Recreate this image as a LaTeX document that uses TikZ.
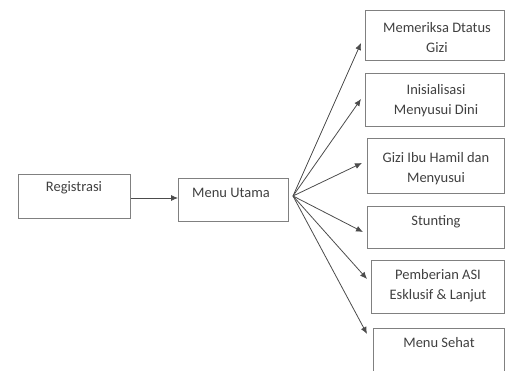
\documentclass[tikz,border=0pt]{standalone}
\usepackage{fontspec}
\setmainfont{Carlito}
\usetikzlibrary{arrows.meta}
\begin{document}
\begin{tikzpicture}[x=1pt,y=-1pt,
  box/.style={draw=black!50, line width=1.2pt, anchor=north west, inner sep=0pt},
  lbl/.style={font=\fontsize{14.5}{20}\selectfont, text=black!75, align=center, inner sep=0pt},
  arr/.style={-{Latex[length=7pt,width=6pt]}, draw=black!70, line width=0.8pt}]
\useasboundingbox (0,0) rectangle (506,371);
% boxes
\node[box, minimum width=112pt, minimum height=44pt] (reg) at (18,174) {};
\node[box, minimum width=110pt, minimum height=43pt] (menu) at (178,178) {};
\node[box, minimum width=139pt, minimum height=50pt] (b1) at (365,10) {};
\node[box, minimum width=139pt, minimum height=53pt] (b2) at (365,73) {};
\node[box, minimum width=137pt, minimum height=55pt] (b3) at (367,138) {};
\node[box, minimum width=137pt, minimum height=42pt] (b4) at (367,206) {};
\node[box, minimum width=133pt, minimum height=53pt] (b5) at (371,260) {};
\node[box, minimum width=131pt, minimum height=60pt] (b6) at (373,328) {};
% labels
\node[lbl] (treg) at (74,188) {Registrasi};
\node[lbl] (tmenu) at (231,193) {Menu Utama};
\node[lbl] (t1) at (437,38) {Memeriksa Dtatus\\Gizi};
\node[lbl] (t2) at (436,101) {Inisialisasi\\Menyusui Dini};
\node[lbl] (t3) at (436,169) {Gizi Ibu Hamil dan\\Menyusui};
\node[lbl] (t4) at (436,222) {Stunting};
\node[lbl] (t5) at (438,286) {Pemberian ASI\\Esklusif \& Lanjut};
\node[lbl] (t6) at (439,343) {Menu Sehat};
% connectors
\draw[arr] (reg.east |- 0,198) -- (menu.west |- 0,198);
\coordinate (fan) at (293,196);
\coordinate (e1) at (361,43);
\coordinate (e2) at (361,99);
\coordinate (e3) at (362,163);
\coordinate (e4) at (363,232);
\coordinate (e5) at (367,279);
\coordinate (e6) at (367,334);
\foreach \i in {1,...,6} \draw[arr] (fan) -- (e\i);
\end{tikzpicture}
\end{document}
